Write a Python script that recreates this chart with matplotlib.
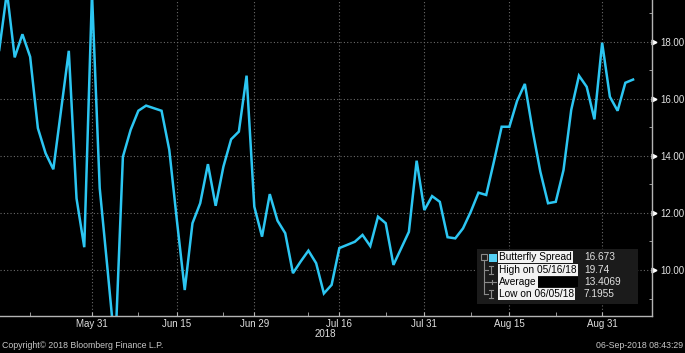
import numpy as np
import pandas as pd
import matplotlib
matplotlib.use('Agg')
import matplotlib.pyplot as plt
from matplotlib.patches import Rectangle
from matplotlib.transforms import blended_transform_factory

## Business days shown on the chart
dates = pd.bdate_range('2018-05-15', '2018-09-06')

## Butterfly spread values
spread = [17.71, 19.74, 17.45, 18.26, 17.47, 14.97, 14.09, 13.53, 15.60, 17.68,
          12.51, 10.80, 19.70, 12.87, 10.06, 7.1955, 13.97, 14.91, 15.58, 15.76,
          15.67, 15.58, 14.21, 11.70, 9.30, 11.64, 12.34, 13.71, 12.25, 13.62,
          14.58, 14.85, 16.81, 12.22, 11.17, 12.66, 11.73, 11.29, 9.89, 10.30,
          10.68, 10.24, 9.18, 9.48, 10.77, 10.88, 10.99, 11.23, 10.84, 11.87,
          11.64, 10.18, 10.76, 11.34, 13.83, 12.10, 12.59, 12.39, 11.15, 11.11,
          11.46, 12.04, 12.71, 12.63, 13.80, 15.02, 15.02, 15.93, 16.52, 14.90,
          13.45, 12.34, 12.39, 13.50, 15.61, 16.81, 16.42, 15.28, 17.96, 16.07,
          15.58, 16.56, 16.673]

tick_dates = ['2018-05-31', '2018-06-15', '2018-06-29', '2018-07-16',
              '2018-07-31', '2018-08-15', '2018-08-31']
tick_labels = ['May 31', 'Jun 15', 'Jun 29', 'Jul 16', 'Jul 31', 'Aug 15', 'Aug 31']
minor_dates = ['2018-05-21', '2018-06-08', '2018-06-25', '2018-07-10',
               '2018-07-24', '2018-08-08', '2018-08-23']

y_major = [10, 12, 14, 16, 18]
y_minor = [9, 11, 13, 15, 17, 19]

legend_labels = ['Butterfly Spread', 'High on 05/16/18', 'Average', 'Low on 06/05/18']
legend_values = ['16.673', '19.74', '13.4069', '7.1955']

LINE = '#2cc6f2'
GRID = '#6a6a6a'
AXIS = '#b4b4b4'
TXT = '#e0e0e0'

plt.rcParams['font.family'] = ['Liberation Sans', 'DejaVu Sans']

W, H = 685, 353
fig = plt.figure(figsize=(W / 100, H / 100), dpi=100, facecolor='black')

def px(x, y):
    ''' pixel position (from top left) to figure fraction '''
    return x / W, 1 - y / H

ax = fig.add_axes([0, 1 - 316 / H, 652 / W, 316 / H], facecolor='black')

x = np.arange(len(dates))
ax.plot(x, spread, color=LINE, lw=1.8, solid_joinstyle='miter')

ax.set_xlim(0.1, 84.45)
ax.set_ylim(8.39, 19.46)

## x axis
xt = [dates.get_loc(pd.Timestamp(d)) for d in tick_dates]
xm = [dates.get_loc(pd.Timestamp(d)) for d in minor_dates]
ax.set_xticks(xt)
ax.set_xticklabels(tick_labels)
ax.set_xticks(xm, minor=True)
ax.tick_params(axis='x', which='both', direction='in', length=3, color=AXIS,
               labelsize=7, labelcolor=TXT, pad=2.5)

## y axis on the right
ax.yaxis.tick_right()
ax.set_yticks(y_major)
ax.set_yticklabels(['%.2f' % v for v in y_major])
ax.set_yticks(y_minor, minor=True)
ax.tick_params(axis='y', which='major', length=0, pad=6, labelsize=7, labelcolor=TXT)
ax.tick_params(axis='y', which='minor', direction='in', length=2.5, color=AXIS)

trans = blended_transform_factory(ax.transAxes, ax.transData)
ax.plot([1.0035] * len(y_major), y_major, linestyle='none', marker='>', markersize=3.5,
        color='white', transform=trans, clip_on=False)

ax.grid(True, which='major', color=GRID, linestyle=(0, (1, 2)), lw=0.8)

for s in ['top', 'left']:
    ax.spines[s].set_visible(False)
for s in ['bottom', 'right']:
    ax.spines[s].set_color(AXIS)
    ax.spines[s].set_linewidth(1)

## text under the axis
fig.text(*px(325, 334), '2018', color=TXT, fontsize=7, ha='center', va='center')
fig.text(*px(2, 346), 'Copyright\u00a9 2018 Bloomberg Finance L.P.', color='#c8c8c8',
         fontsize=6.3, ha='left', va='center')
fig.text(*px(683, 346), '06-Sep-2018 08:43:29', color='#c8c8c8',
         fontsize=6.3, ha='right', va='center')

## legend box
bx0, by0, bx1, by1 = 477, 249, 638, 304
fig.patches.append(Rectangle(px(bx0, by1), (bx1 - bx0) / W, (by1 - by0) / H,
                             transform=fig.transFigure, facecolor='#1b1b1b',
                             edgecolor='none', zorder=5))

rows = [257, 270, 282, 294]
tree = '#8a8a8a'
## tree lines on the left of the legend
fig.lines.append(plt.Line2D(*zip(px(484, 260), px(484, 294)), transform=fig.transFigure,
                            color=tree, lw=0.8, zorder=6))
fig.patches.append(Rectangle(px(481, 260), 6 / W, 6 / H, transform=fig.transFigure,
                             facecolor='none', edgecolor=tree, lw=0.8, zorder=6))
for ry in rows[1:]:
    fig.lines.append(plt.Line2D(*zip(px(484, ry), px(488, ry)), transform=fig.transFigure,
                                color=tree, lw=0.8, zorder=6))
for ry in [rows[1], rows[3]]:
    fig.lines.append(plt.Line2D(*zip(px(491, ry - 4), px(491, ry + 4)),
                                transform=fig.transFigure, color=tree, lw=0.8, zorder=6))
    for dy in (-4, 4):
        fig.lines.append(plt.Line2D(*zip(px(489, ry + dy), px(493, ry + dy)),
                                    transform=fig.transFigure, color=tree, lw=0.8, zorder=6))
fig.lines.append(plt.Line2D(*zip(px(487, rows[2]), px(496, rows[2])),
                            transform=fig.transFigure, color=tree, lw=0.8, zorder=6))
fig.lines.append(plt.Line2D(*zip(px(491.5, rows[2] - 2), px(491.5, rows[2] + 2)),
                            transform=fig.transFigure, color=tree, lw=0.8, zorder=6))

## cyan swatch
fig.patches.append(Rectangle(px(489, 262), 8 / W, 8 / H, transform=fig.transFigure,
                             facecolor='#55d0f5', edgecolor='none', zorder=6))

## black bar after "Average"
fig.patches.append(Rectangle(px(535, 287), 43 / W, 10 / H, transform=fig.transFigure,
                             facecolor='black', edgecolor='none', zorder=6))

for ry, lab, val in zip(rows, legend_labels, legend_values):
    fig.text(*px(499, ry), lab, color='black', fontsize=7.3, ha='left', va='center', zorder=7,
             bbox=dict(boxstyle='square,pad=0.12', facecolor='#f2f2f2', edgecolor='none'))
    fig.text(*px(584, ry), val, color=TXT, fontsize=7.3, ha='left', va='center', zorder=7)

fig.savefig('out.png', dpi=100, facecolor='black')
